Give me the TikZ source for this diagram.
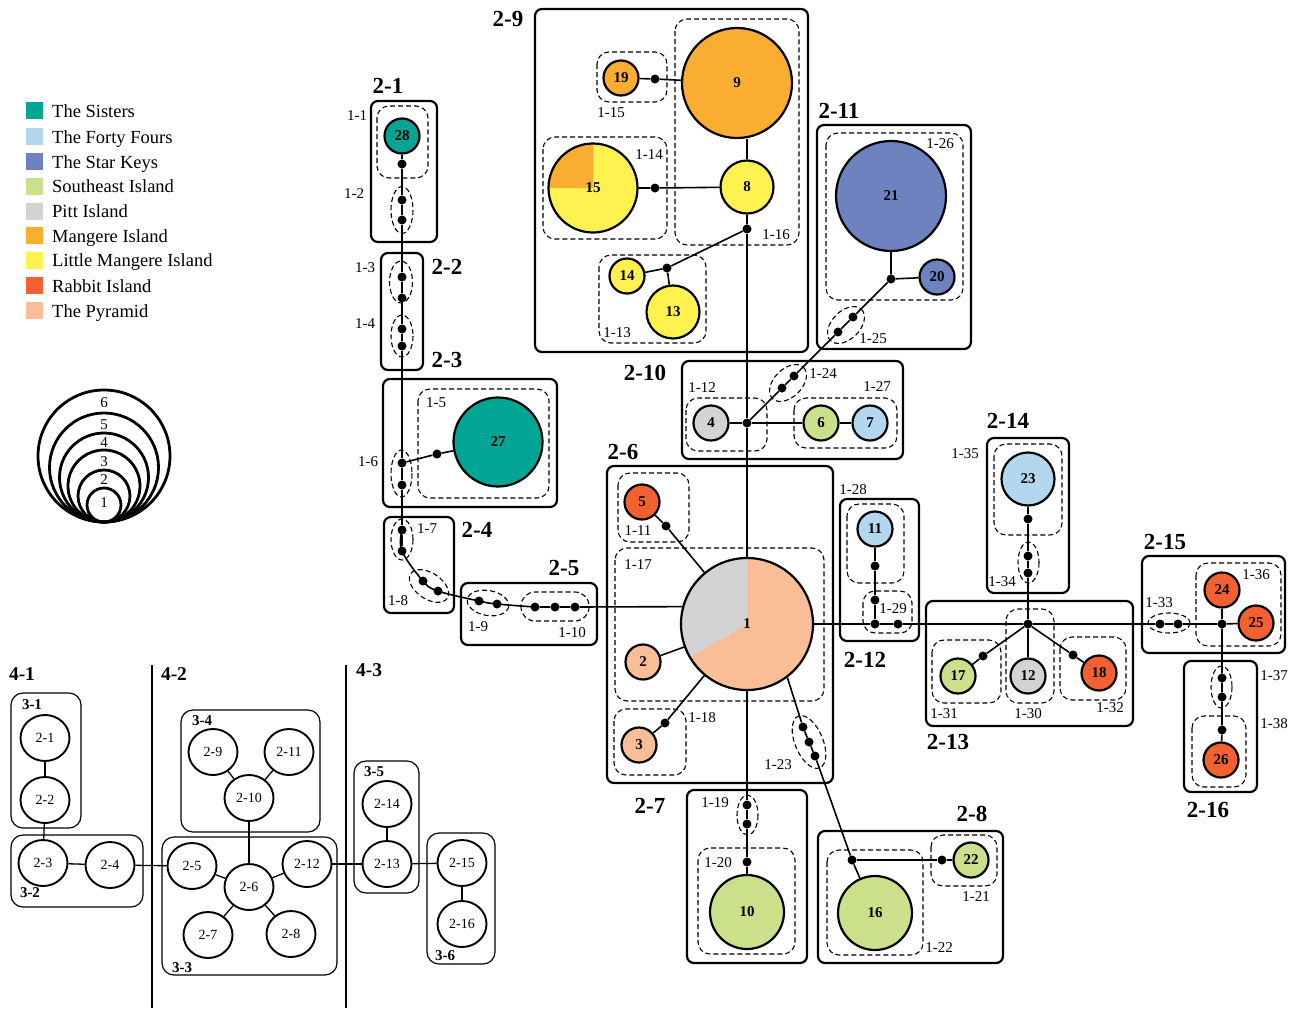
\documentclass[tikz,border=0pt]{standalone}
\usepackage{fontspec}
\setmainfont{Liberation Serif}
\usetikzlibrary{shapes.geometric,calc}
\definecolor{csis}{RGB}{0,166,147}
\definecolor{cff}{RGB}{180,215,240}
\definecolor{csk}{RGB}{111,130,192}
\definecolor{cse}{RGB}{203,224,139}
\definecolor{cpitt}{RGB}{209,211,212}
\definecolor{cman}{RGB}{249,174,50}
\definecolor{clm}{RGB}{255,242,80}
\definecolor{crab}{RGB}{243,97,50}
\definecolor{cpyr}{RGB}{249,190,152}
\newcommand\fsz[1]{\fontsize{#1}{#1}\selectfont}
\begin{document}
\begin{tikzpicture}[x=1pt,y=-1pt,
  hap/.style={circle,draw,line width=2.2pt,inner sep=0pt,font=\fsz{15}\bfseries},
  dotn/.style={circle,fill=black,inner sep=0pt,minimum size=9pt},
  edge/.style={line width=1.6pt},
  groupbox/.style={draw,line width=2.2pt,rounded corners=7pt},
  dashbox/.style={draw,line width=1.1pt,rounded corners=12pt,dash pattern=on 5pt off 3pt},
  dashell/.style={draw,line width=1.1pt,dash pattern=on 5pt off 3pt},
  glabel/.style={font=\fsz{23}\bfseries,inner sep=0pt},
  slabel/.style={font=\fsz{15},inner sep=0pt},
  swatch/.style={inner sep=0pt,minimum size=17pt},
  legtext/.style={font=\fsz{18.5},anchor=base west,inner sep=0pt},
  sizec/.style={circle,draw,line width=2.8pt,inner sep=0pt},
  blnode/.style={ellipse,draw,line width=1.9pt,inner sep=0pt,minimum width=49pt,minimum height=46pt,font=\fsz{14}},
  blbox/.style={draw,line width=1.2pt,rounded corners=12pt},
  bledge/.style={line width=1.3pt},
  l3/.style={font=\fsz{15}\bfseries,inner sep=0pt},
  l4/.style={font=\fsz{19.5}\bfseries,inner sep=0pt}]
\useasboundingbox (0,0) rectangle (1300,1010);

% ---------------- legend
\node[swatch,fill=csis] (s1) at (34,110.5) {};
\node[swatch,fill=cff] (s2) at (34,136.5) {};
\node[swatch,fill=csk] (s3) at (34,161.5) {};
\node[swatch,fill=cse] (s4) at (34,186) {};
\node[swatch,fill=cpitt] (s5) at (34,211) {};
\node[swatch,fill=cman] (s6) at (34,235.5) {};
\node[swatch,fill=clm] (s7) at (34,260) {};
\node[swatch,fill=crab] (s8) at (34,285.5) {};
\node[swatch,fill=cpyr] (s9) at (34,310.5) {};
\node[legtext] (t1) at (52,117) {The Sisters};
\node[legtext] (t2) at (52,143) {The Forty Fours};
\node[legtext] (t3) at (52,168) {The Star Keys};
\node[legtext] (t4) at (52,192.5) {Southeast Island};
\node[legtext] (t5) at (52,217.5) {Pitt Island};
\node[legtext] (t6) at (52,242) {Mangere Island};
\node[legtext] (t7) at (52,266.5) {Little Mangere Island};
\node[legtext] (t8) at (52,292) {Rabbit Island};
\node[legtext] (t9) at (52,317) {The Pyramid};

% size key
\node[sizec,minimum size=132pt] (c6) at (104,456) {};
\node[sizec,minimum size=109pt] (c5) at (104,467.5) {};
\node[sizec,minimum size=89pt] (c4) at (104,477.5) {};
\node[sizec,minimum size=72pt] (c3) at (104,486) {};
\node[sizec,minimum size=52pt] (c2) at (104,496) {};
\node[sizec,minimum size=34pt] (c1) at (104,505) {};
\node[slabel] (k6) at (104,403) {6};
\node[slabel] (k5) at (104,425) {5};
\node[slabel] (k4) at (104,443) {4};
\node[slabel] (k3) at (104,462) {3};
\node[slabel] (k2) at (104,480) {2};
\node[slabel] (k1) at (104,503) {1};

% ---------------- group boxes
\draw[groupbox] (371,101) rectangle (437,242);
\draw[groupbox] (381,253) rectangle (423,370);
\draw[groupbox] (383,379) rectangle (557,507);
\draw[groupbox] (384,517) rectangle (454,613);
\draw[groupbox] (461,583) rectangle (597,645);
\draw[groupbox] (535,9) rectangle (808,352);
\draw[groupbox] (682,361) rectangle (903,459);
\draw[groupbox] (817,125) rectangle (971,349);
\draw[groupbox] (607,466) rectangle (833,783);
\draw[groupbox] (687,790) rectangle (807,963);
\draw[groupbox] (818,831) rectangle (1003,963);
\draw[groupbox] (840,499) rectangle (919,641);
\draw[groupbox] (987,438) rectangle (1069,593);
\draw[groupbox] (926,601) rectangle (1133,726);
\draw[groupbox] (1142,556) rectangle (1285,653);
\draw[groupbox] (1184,661) rectangle (1257,792);

% ---------------- dashed boxes
\draw[dashbox] (377,106) rectangle (428,178);
\draw[dashbox] (418,389) rectangle (549,498);
\draw[dashbox,rounded corners=14pt] (521,592) rectangle (589,621);
\draw[dashbox] (675,19) rectangle (799,245);
\draw[dashbox] (597,52) rectangle (667,102);
\draw[dashbox] (543,137) rectangle (667,239);
\draw[dashbox] (599,255) rectangle (706,343);
\draw[dashbox] (826,133) rectangle (963,300);
\draw[dashbox] (686,398) rectangle (767,451);
\draw[dashbox] (794,398) rectangle (897,448);
\draw[dashbox] (618,473) rectangle (689,542);
\draw[dashbox] (615,548) rectangle (824,701);
\draw[dashbox] (614,709) rectangle (686,775);
\draw[dashbox] (698,848) rectangle (795,954);
\draw[dashbox] (827,850) rectangle (923,955);
\draw[dashbox] (931,835) rectangle (997,886);
\draw[dashbox] (847,504) rectangle (904,583);
\draw[dashbox] (863,591) rectangle (912,633);
\draw[dashbox] (994,444) rectangle (1062,535);
\draw[dashbox] (932,640) rectangle (1001,703);
\draw[dashbox] (1006,609) rectangle (1054,703);
\draw[dashbox] (1060,637) rectangle (1126,700);
\draw[dashbox] (1196,563) rectangle (1281,646);
\draw[dashbox] (1192,716) rectangle (1246,787);

% dashed ellipses
\draw[dashell] (402,210) ellipse[x radius=11, y radius=23.5];
\draw[dashell] (401,282) ellipse[x radius=11.5, y radius=21];
\draw[dashell] (402,336) ellipse[x radius=11, y radius=21];
\draw[dashell] (401.5,473.5) ellipse[x radius=10.5, y radius=23.5];
\draw[dashell] (402,539.5) ellipse[x radius=11, y radius=20.5];
\draw[dashell] (747.5,815) ellipse[x radius=10.5, y radius=20];
\draw[dashell] (1028.5,562.5) ellipse[x radius=10.5, y radius=20.5];
\draw[dashell] (1221.5,687) ellipse[x radius=10.5, y radius=21];
\draw[dashell] (1169,623) ellipse[x radius=21, y radius=10];
\draw[dashell,rotate around={-34:(429,586)}] (429,586) ellipse[x radius=22, y radius=13];
\draw[dashell,rotate around={-10:(488,603)}] (488,603) ellipse[x radius=21, y radius=12.5];
\draw[dashell,rotate around={45:(788,383)}] (788,383) ellipse[x radius=22, y radius=14];
\draw[dashell,rotate around={45:(846,325)}] (846,325) ellipse[x radius=22, y radius=14];
\draw[dashell,rotate around={-67.5:(809,742)}] (809,742) ellipse[x radius=28, y radius=14];

% ---------------- pie backgrounds
\fill[clm] (593,188) circle[radius=44.5];
\fill[cman] (593,188) -- ++(-90:44.5) arc[start angle=-90, end angle=-180, radius=44.5] -- cycle;
\fill[cpyr] (747,624) circle[radius=66];
\fill[cpitt] (747,624) -- ++(-90:66) arc[start angle=-90, end angle=-210, radius=66] -- cycle;

% ---------------- haplotype nodes
\node[hap,minimum size=35pt,fill=csis] (n28) at (402,136) {28};
\node[hap,minimum size=89pt,fill=csis] (n27) at (498,442) {27};
\node[hap,minimum size=35pt,fill=cman] (n19) at (621,78) {19};
\node[hap,minimum size=110pt,fill=cman] (n9) at (737,83) {9};
\node[hap,minimum size=89pt] (n15) at (593,188) {15};
\node[hap,minimum size=53pt,fill=clm] (n8) at (747,187) {8};
\node[hap,minimum size=35pt,fill=clm] (n14) at (627,276) {14};
\node[hap,minimum size=53pt,fill=clm] (n13) at (673,312) {13};
\node[hap,minimum size=110pt,fill=csk] (n21) at (891,196) {21};
\node[hap,minimum size=35pt,fill=csk] (n20) at (937,277) {20};
\node[hap,minimum size=35pt,fill=cpitt] (n4) at (711,423) {4};
\node[hap,minimum size=35pt,fill=cse] (n6) at (821,423) {6};
\node[hap,minimum size=35pt,fill=cff] (n7) at (870,423) {7};
\node[hap,minimum size=35pt,fill=crab] (n5) at (642,502) {5};
\node[hap,minimum size=132pt] (n1) at (747,624) {1};
\node[hap,minimum size=35pt,fill=cpyr] (n2) at (643,662) {2};
\node[hap,minimum size=35pt,fill=cpyr] (n3) at (639,745) {3};
\node[hap,minimum size=74pt,fill=cse] (n10) at (747,912) {10};
\node[hap,minimum size=74pt,fill=cse] (n16) at (875,913) {16};
\node[hap,minimum size=35pt,fill=cse] (n22) at (971,860) {22};
\node[hap,minimum size=35pt,fill=cff] (n11) at (875,529) {11};
\node[hap,minimum size=53pt,fill=cff] (n23) at (1028,479) {23};
\node[hap,minimum size=35pt,fill=cse] (n17) at (958,676) {17};
\node[hap,minimum size=35pt,fill=cpitt] (n12) at (1028,676) {12};
\node[hap,minimum size=35pt,fill=crab] (n18) at (1099,673) {18};
\node[hap,minimum size=35pt,fill=crab] (n24) at (1222,590) {24};
\node[hap,minimum size=35pt,fill=crab] (n25) at (1256,623) {25};
\node[hap,minimum size=35pt,fill=crab] (n26) at (1221,760) {26};

% ---------------- dots / junctions
\node[dotn] (d11) at (402,164) {};
\node[dotn] (d12a) at (402,200) {};
\node[dotn] (d12b) at (402,220) {};
\node[dotn] (d13a) at (402,277) {};
\node[dotn] (d13b) at (402,298) {};
\node[dotn] (d14a) at (402,329) {};
\node[dotn] (d14b) at (402,346) {};
\node[dotn] (j16) at (402,463) {};
\node[dotn] (d16b) at (402,485) {};
\node[dotn] (d15) at (437,454) {};
\node[dotn] (d17a) at (402,530) {};
\node[dotn] (d17b) at (402,551) {};
\node[dotn] (d18a) at (423,581) {};
\node[dotn] (d18b) at (438,591) {};
\node[dotn] (d19a) at (479,601) {};
\node[dotn] (d19b) at (497,604) {};
\node[dotn] (d110a) at (535,607) {};
\node[dotn] (d110b) at (555,607) {};
\node[dotn] (d110c) at (575,607) {};
\node[dotn] (d115) at (655,79) {};
\node[dotn] (d114) at (655,188) {};
\node[dotn] (d116) at (747,229) {};
\node[dotn] (j113) at (667,268) {};
\node[dotn] (j112) at (747,423) {};
\node[dotn] (d124a) at (782,388) {};
\node[dotn] (d124b) at (794,376) {};
\node[dotn] (d125a) at (838,332) {};
\node[dotn] (d125b) at (853,317) {};
\node[dotn] (j211) at (891,279) {};
\node[dotn] (d111) at (666,526) {};
\node[dotn] (d118) at (665,723) {};
\node[dotn] (d123a) at (803,727) {};
\node[dotn] (d123b) at (809,742) {};
\node[dotn] (d123c) at (815,756) {};
\node[dotn] (j122) at (852,860) {};
\node[dotn] (d121) at (942,860) {};
\node[dotn] (d119a) at (747,805) {};
\node[dotn] (d119b) at (747,824) {};
\node[dotn] (d120) at (747,862) {};
\node[dotn] (d128) at (875,566) {};
\node[dotn] (d129a) at (875,600) {};
\node[dotn] (j129) at (875,624) {};
\node[dotn] (d129b) at (898,624) {};
\node[dotn] (j213) at (1028,624) {};
\node[dotn] (d135) at (1028,519) {};
\node[dotn] (d134a) at (1028,556) {};
\node[dotn] (d134b) at (1028,573) {};
\node[dotn] (d131) at (983,656) {};
\node[dotn] (d132) at (1073,655) {};
\node[dotn] (d133a) at (1160,624) {};
\node[dotn] (d133b) at (1178,624) {};
\node[dotn] (j215) at (1222,624) {};
\node[dotn] (d137a) at (1222,678) {};
\node[dotn] (d137b) at (1222,697) {};
\node[dotn] (d138) at (1222,730) {};

% ---------------- edges
\draw[edge] (n28) -- (d11) -- (d12a) -- (d12b) -- (d13a) -- (d13b) -- (d14a) -- (d14b) -- (j16) -- (d16b) -- (d17a) -- (d17b);
\draw[edge] plot[smooth,tension=0.6] coordinates {(d17a) (d17b) (d18a) (d18b) (d19a) (d19b) (d110a)};
\draw[edge] (j16) -- (d15) -- (n27);
\draw[edge] (d110a) -- (d110b) -- (d110c) -- (n1.165);
\draw[edge] (n19) -- (d115) -- (n9);
\draw[edge] (n8) -- (n8 |- n9.south);
\draw[edge] (n15) -- (d114) -- (n8);
\draw[edge] (n8) -- (d116) -- (j113) -- (n14);
\draw[edge] (j113) -- (n13);
\draw[edge] (d116) -- (j112) -- (n1);
\draw[edge] (j112) -- (n4);
\draw[edge] (j112) -- (n6) -- (n7);
\draw[edge] (j112) -- (d124a) -- (d124b) -- (d125a) -- (d125b) -- (j211) -- (n21);
\draw[edge] (j211) -- (n20);
\draw[edge] (n5) -- (d111) -- (n1);
\draw[edge] (n2) -- (n1);
\draw[edge] (n3) -- (d118) -- (n1);
\draw[edge] (n1.-53) -- (d123a) -- (d123b) -- (d123c) -- (j122) -- (n16);
\draw[edge] (j122) -- (d121) -- (n22);
\draw[edge] (n1) -- (d119a) -- (d119b) -- (d120) -- (n10);
\draw[edge] (n1.east) -- (j129) -- (d129b) -- (j213) -- (d133a) -- (d133b) -- (j215) -- (n25);
\draw[edge] (n11) -- (d128) -- (d129a) -- (j129);
\draw[edge] (j213) -- (d134b) -- (d134a) -- (d135) -- (n23);
\draw[edge] (j213) -- (d131) -- (n17);
\draw[edge] (j213) -- (n12);
\draw[edge] (j213) -- (d132) -- (n18);
\draw[edge] (j215) -- (n24);
\draw[edge] (j215) -- (d137a) -- (d137b) -- (d138) -- (n26);

% ---------------- group labels
\node[glabel] (g21) at (388,86) {2-1};
\node[glabel] (g22) at (447,267) {2-2};
\node[glabel] (g23) at (447,360) {2-3};
\node[glabel] (g24) at (477,530) {2-4};
\node[glabel] (g25) at (564,568) {2-5};
\node[glabel] (g29) at (508,19) {2-9};
\node[glabel] (g210) at (645,373) {2-10};
\node[glabel] (g211) at (839,111) {2-11};
\node[glabel] (g26) at (623,452) {2-6};
\node[glabel] (g27) at (650,806) {2-7};
\node[glabel] (g28) at (972,814) {2-8};
\node[glabel] (g212) at (865,660) {2-12};
\node[glabel] (g214) at (1008,421) {2-14};
\node[glabel] (g213) at (948,742) {2-13};
\node[glabel] (g215) at (1165,542) {2-15};
\node[glabel] (g216) at (1208,810) {2-16};

% ---------------- small labels
\node[slabel] (l11) at (357,116) {1-1};
\node[slabel] (l12) at (354,194) {1-2};
\node[slabel] (l13) at (365,268) {1-3};
\node[slabel] (l14) at (365,324) {1-4};
\node[slabel] (l15) at (436,403) {1-5};
\node[slabel] (l16) at (368,462) {1-6};
\node[slabel] (l17) at (427,529) {1-7};
\node[slabel] (l18) at (398,601) {1-8};
\node[slabel] (l19) at (478,627) {1-9};
\node[slabel] (l110) at (572,633) {1-10};
\node[slabel] (l111) at (638,531) {1-11};
\node[slabel] (l112) at (702,388) {1-12};
\node[slabel] (l113) at (617,333) {1-13};
\node[slabel] (l114) at (649,155) {1-14};
\node[slabel] (l115) at (611,113) {1-15};
\node[slabel] (l116) at (776,235) {1-16};
\node[slabel] (l117) at (638,565) {1-17};
\node[slabel] (l118) at (702,718) {1-18};
\node[slabel] (l119) at (715,803) {1-19};
\node[slabel] (l120) at (718,863) {1-20};
\node[slabel] (l121) at (976,897) {1-21};
\node[slabel] (l122) at (939,948) {1-22};
\node[slabel] (l123) at (778,765) {1-23};
\node[slabel] (l124) at (823,374) {1-24};
\node[slabel] (l125) at (873,339) {1-25};
\node[slabel] (l126) at (940,144) {1-26};
\node[slabel] (l127) at (877,387) {1-27};
\node[slabel] (l128) at (853,490) {1-28};
\node[slabel] (l129) at (893,609) {1-29};
\node[slabel] (l130) at (1028,714) {1-30};
\node[slabel] (l131) at (944,714) {1-31};
\node[slabel] (l132) at (1110,708) {1-32};
\node[slabel] (l133) at (1159,603) {1-33};
\node[slabel] (l134) at (1002,582) {1-34};
\node[slabel] (l135) at (965,454) {1-35};
\node[slabel] (l136) at (1256,575) {1-36};
\node[slabel] (l137) at (1274,676) {1-37};
\node[slabel] (l138) at (1274,724) {1-38};

% ---------------- bottom-left overview
\draw[line width=2.5pt] (152,665) -- (152,1008);
\draw[line width=2.5pt] (346,665) -- (346,1008);
\node[l4] (h41) at (22,674) {4-1};
\node[l4] (h42) at (174,674) {4-2};
\node[l4] (h43) at (369,670) {4-3};
\draw[blbox] (11,693) rectangle (81,828);
\draw[blbox] (11,835) rectangle (143,907);
\draw[blbox] (162,837) rectangle (337,975);
\draw[blbox] (181,710) rectangle (320,832);
\draw[blbox] (354,761) rectangle (419,893);
\draw[blbox] (427,833) rectangle (495,964);
\node[l3] (h31) at (32,705) {3-1};
\node[l3] (h32) at (30,893) {3-2};
\node[l3] (h33) at (182,968) {3-3};
\node[l3] (h34) at (202,721) {3-4};
\node[l3] (h35) at (374,772) {3-5};
\node[l3] (h36) at (445,956) {3-6};
\node[blnode] (b21) at (45,738) {2-1};
\node[blnode] (b22) at (45,800) {2-2};
\node[blnode] (b23) at (43,863) {2-3};
\node[blnode] (b24) at (110,865) {2-4};
\node[blnode] (b25) at (192,866) {2-5};
\node[blnode] (b26) at (249,887) {2-6};
\node[blnode] (b212) at (307,864) {2-12};
\node[blnode] (b27) at (208,935) {2-7};
\node[blnode] (b28) at (291,934) {2-8};
\node[blnode] (b29) at (213,752) {2-9};
\node[blnode] (b211) at (289,752) {2-11};
\node[blnode] (b210) at (249,798) {2-10};
\node[blnode] (b214) at (387,804) {2-14};
\node[blnode] (b213) at (387,864) {2-13};
\node[blnode] (b215) at (462,863) {2-15};
\node[blnode] (b216) at (462,924) {2-16};
\draw[bledge] (b21) -- (b22);
\draw[bledge] (b22) -- (b23);
\draw[bledge] (b23) -- (b24);
\draw[bledge] (b24) -- (b25);
\draw[bledge] (b25) -- (b26);
\draw[bledge] (b26) -- (b27);
\draw[bledge] (b26) -- (b28);
\draw[bledge] (b26) -- (b210);
\draw[bledge] (b210) -- (b29);
\draw[bledge] (b210) -- (b211);
\draw[bledge] (b26) -- (b212);
\draw[bledge] (b212) -- (b213);
\draw[bledge] (b213) -- (b214);
\draw[bledge] (b213) -- (b215);
\draw[bledge] (b215) -- (b216);
\end{tikzpicture}
\end{document}
